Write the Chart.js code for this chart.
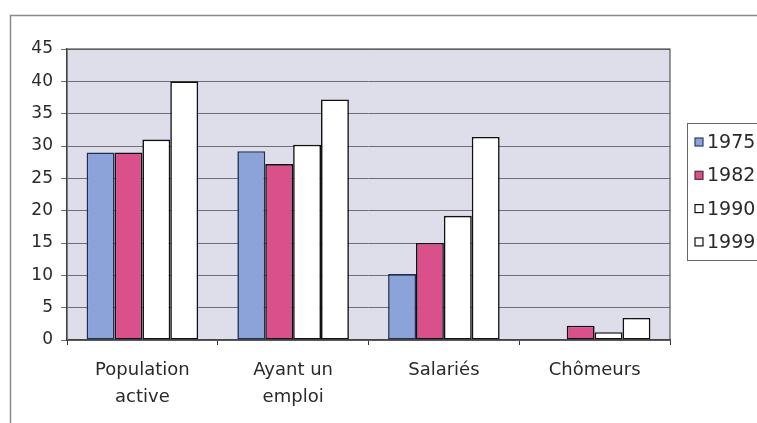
<!DOCTYPE html>
<html>
<head>
<meta charset="utf-8">
<script src="https://cdn.jsdelivr.net/npm/chart.js@4/dist/chart.umd.min.js"></script>
<style>
  html, body { margin: 0; padding: 0; background: #ffffff; }
  #wrap { width: 757px; height: 423px; position: relative; }
</style>
</head>
<body>
<div id="wrap"><canvas id="c" width="757" height="423"></canvas></div>
<script>
// Categories (two-line labels) and series values
const categories = [["Population", "active"], ["Ayant un", "emploi"], ["Salariés"], ["Chômeurs"]];
const years = ["1975", "1982", "1990", "1999"];
const v1975 = [29, 29.2, 10.2, null];
const v1982 = [29, 27.2, 15, 2.2];
const v1990 = [31, 30.2, 19.2, 1.2];
const v1999 = [40, 37.2, 31.4, 3.4];
const yTicks = [0, 5, 10, 15, 20, 25, 30, 35, 40, 45];

const fills = ["#8ca3da", "#d9508a", "#ffffff", "#ffffff"];
const edges = ["#1e2f55", "#111111", "#111111", "#111111"];
const series = [v1975, v1982, v1990, v1999];
const FONT = "'DejaVu Sans', 'Liberation Sans', sans-serif";

// Lavender plot background, plot frame, outer frame and boxed legend
const decor = {
  id: "decor",
  beforeDraw(chart) {
    const { ctx, chartArea: a } = chart;
    ctx.save();
    ctx.fillStyle = "#ffffff";
    ctx.fillRect(0, 0, chart.width, chart.height);
    ctx.fillStyle = "#dedeea";
    ctx.fillRect(a.left, a.top, a.right - a.left, a.bottom - a.top);
    // outer frame
    ctx.strokeStyle = "#8a8a8a";
    ctx.lineWidth = 1.5;
    ctx.beginPath();
    ctx.moveTo(10.5, chart.height);
    ctx.lineTo(10.5, 15.5);
    ctx.lineTo(chart.width, 15.5);
    ctx.stroke();
    ctx.restore();
  },
  afterDraw(chart) {
    const { ctx, chartArea: a } = chart;
    ctx.save();
    ctx.strokeStyle = "#555555";
    ctx.lineWidth = 1.2;
    ctx.strokeRect(a.left, a.top, a.right - a.left, a.bottom - a.top);
    // legend box
    const bx = 687, by = 123, bw = 90, bh = 137;
    ctx.fillStyle = "#ffffff";
    ctx.fillRect(bx, by, bw, bh);
    ctx.strokeStyle = "#666666";
    ctx.lineWidth = 1;
    ctx.strokeRect(bx + 0.5, by + 0.5, bw, bh);
    ctx.font = "19px " + FONT;
    ctx.textBaseline = "middle";
    chart.data.datasets.forEach((ds, i) => {
      const cy = 142 + i * 33.3;
      ctx.fillStyle = ds.backgroundColor;
      ctx.fillRect(695, cy - 4, 8, 8);
      ctx.strokeStyle = i === 0 ? "#2a3f6a" : (i === 1 ? "#5a2a40" : "#111111");
      ctx.lineWidth = 1.2;
      ctx.strokeRect(695, cy - 4, 8, 8);
      ctx.fillStyle = "#2a2a2a";
      ctx.fillText(ds.label, 707, cy + 1);
    });
    ctx.restore();
  }
};

new Chart(document.getElementById("c"), {
  type: "bar",
  data: {
    labels: categories,
    datasets: series.map((vals, i) => ({
      label: years[i],
      data: vals,
      backgroundColor: fills[i],
      borderColor: edges[i],
      borderWidth: 1.6,
      borderSkipped: false,
      categoryPercentage: 0.74,
      barPercentage: 1.0
    }))
  },
  options: {
    responsive: false,
    animation: false,
    devicePixelRatio: 1,
    layout: { padding: { left: 0, top: 49, right: 87, bottom: 0 } },
    plugins: { legend: { display: false }, tooltip: { enabled: false } },
    scales: {
      x: {
        grid: { display: true, drawOnChartArea: false, drawTicks: true, tickLength: 5, color: "#333333", offset: true },
        border: { display: true, color: "#333333", width: 1.2 },
        ticks: {
          color: "#2a2a2a",
          padding: 12,
          font: { family: FONT, size: 18, lineHeight: 1.5 }
        },
        afterFit(s) { s.height = 83; }
      },
      y: {
        min: 0, max: 45,
        afterBuildTicks(s) { s.ticks = yTicks.map(v => ({ value: v })); },
        grid: { color: "#6e6e74", lineWidth: 1, tickLength: 6, drawTicks: true },
        border: { display: true, color: "#222222", width: 1.2 },
        ticks: {
          color: "#2a2a2a",
          padding: 8,
          font: { family: FONT, size: 17 }
        },
        afterFit(s) { s.width = 67; }
      }
    }
  },
  plugins: [decor]
});
</script>
</body>
</html>
